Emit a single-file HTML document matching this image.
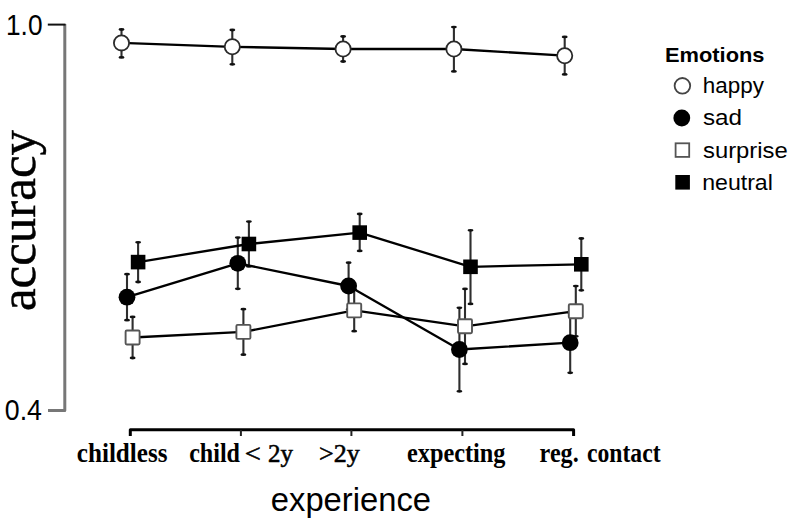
<!DOCTYPE html>
<html><head><meta charset="utf-8"><style>
html,body{margin:0;padding:0;background:#fff;width:800px;height:528px;overflow:hidden}
svg{display:block}
</style></head><body>
<svg width="800" height="528" viewBox="0 0 800 528">
<rect width="800" height="528" fill="#fff"/>
<path d="M64.8 24 V410.4 H48" fill="none" stroke="#777" stroke-width="3" stroke-linejoin="round"/>
<path d="M47.8 24.6 H65.5" fill="none" stroke="#111" stroke-width="2"/>
<path d="M130.3 436 V429.8 H573.6 V436" fill="none" stroke="#000" stroke-width="3" stroke-linejoin="round"/>
<path d="M240.9 430 V436" stroke="#222" stroke-width="2"/>
<path d="M351.4 430 V436" stroke="#222" stroke-width="2"/>
<path d="M462.4 430 V436" stroke="#222" stroke-width="2"/>
<path d="M132.6 316.9 V358.0" stroke="#2e2e2e" stroke-width="2.1" fill="none"/>
<ellipse cx="132.6" cy="316.9" rx="3.0" ry="1.4" fill="#111"/><ellipse cx="132.6" cy="358.0" rx="3.0" ry="1.4" fill="#111"/>
<path d="M243.4 309.2 V354.7" stroke="#2e2e2e" stroke-width="2.1" fill="none"/>
<ellipse cx="243.4" cy="309.2" rx="3.0" ry="1.4" fill="#111"/><ellipse cx="243.4" cy="354.7" rx="3.0" ry="1.4" fill="#111"/>
<path d="M354.2 289.6 V331.2" stroke="#2e2e2e" stroke-width="2.1" fill="none"/>
<ellipse cx="354.2" cy="289.6" rx="3.0" ry="1.4" fill="#111"/><ellipse cx="354.2" cy="331.2" rx="3.0" ry="1.4" fill="#111"/>
<path d="M465.0 288.9 V363.9" stroke="#2e2e2e" stroke-width="2.1" fill="none"/>
<ellipse cx="465.0" cy="288.9" rx="3.0" ry="1.4" fill="#111"/><ellipse cx="465.0" cy="363.9" rx="3.0" ry="1.4" fill="#111"/>
<path d="M575.8 286.1 V336.3" stroke="#2e2e2e" stroke-width="2.1" fill="none"/>
<ellipse cx="575.8" cy="286.1" rx="3.0" ry="1.4" fill="#111"/><ellipse cx="575.8" cy="336.3" rx="3.0" ry="1.4" fill="#111"/>
<path d="M127.0 274.2 V320.2" stroke="#2e2e2e" stroke-width="2.1" fill="none"/>
<ellipse cx="127.0" cy="274.2" rx="3.0" ry="1.4" fill="#111"/><ellipse cx="127.0" cy="320.2" rx="3.0" ry="1.4" fill="#111"/>
<path d="M237.8 237.6 V288.8" stroke="#2e2e2e" stroke-width="2.1" fill="none"/>
<ellipse cx="237.8" cy="237.6" rx="3.0" ry="1.4" fill="#111"/><ellipse cx="237.8" cy="288.8" rx="3.0" ry="1.4" fill="#111"/>
<path d="M348.6 262.7 V309.3" stroke="#2e2e2e" stroke-width="2.1" fill="none"/>
<ellipse cx="348.6" cy="262.7" rx="3.0" ry="1.4" fill="#111"/><ellipse cx="348.6" cy="309.3" rx="3.0" ry="1.4" fill="#111"/>
<path d="M459.4 307.8 V391.3" stroke="#2e2e2e" stroke-width="2.1" fill="none"/>
<ellipse cx="459.4" cy="307.8" rx="3.0" ry="1.4" fill="#111"/><ellipse cx="459.4" cy="391.3" rx="3.0" ry="1.4" fill="#111"/>
<path d="M570.2 312.7 V372.8" stroke="#2e2e2e" stroke-width="2.1" fill="none"/>
<ellipse cx="570.2" cy="312.7" rx="3.0" ry="1.4" fill="#111"/><ellipse cx="570.2" cy="372.8" rx="3.0" ry="1.4" fill="#111"/>
<path d="M138.1 242.3 V282.0" stroke="#2e2e2e" stroke-width="2.1" fill="none"/>
<ellipse cx="138.1" cy="242.3" rx="3.0" ry="1.4" fill="#111"/><ellipse cx="138.1" cy="282.0" rx="3.0" ry="1.4" fill="#111"/>
<path d="M248.9 221.6 V266.4" stroke="#2e2e2e" stroke-width="2.1" fill="none"/>
<ellipse cx="248.9" cy="221.6" rx="3.0" ry="1.4" fill="#111"/><ellipse cx="248.9" cy="266.4" rx="3.0" ry="1.4" fill="#111"/>
<path d="M359.7 214.0 V250.9" stroke="#2e2e2e" stroke-width="2.1" fill="none"/>
<ellipse cx="359.7" cy="214.0" rx="3.0" ry="1.4" fill="#111"/><ellipse cx="359.7" cy="250.9" rx="3.0" ry="1.4" fill="#111"/>
<path d="M470.5 230.3 V303.9" stroke="#2e2e2e" stroke-width="2.1" fill="none"/>
<ellipse cx="470.5" cy="230.3" rx="3.0" ry="1.4" fill="#111"/><ellipse cx="470.5" cy="303.9" rx="3.0" ry="1.4" fill="#111"/>
<path d="M581.3 238.5 V290.3" stroke="#2e2e2e" stroke-width="2.1" fill="none"/>
<ellipse cx="581.3" cy="238.5" rx="3.0" ry="1.4" fill="#111"/><ellipse cx="581.3" cy="290.3" rx="3.0" ry="1.4" fill="#111"/>
<path d="M121.5 29.5 V57.4" stroke="#2e2e2e" stroke-width="2.1" fill="none"/>
<ellipse cx="121.5" cy="29.5" rx="3.0" ry="1.4" fill="#111"/><ellipse cx="121.5" cy="57.4" rx="3.0" ry="1.4" fill="#111"/>
<path d="M232.3 30.0 V64.3" stroke="#2e2e2e" stroke-width="2.1" fill="none"/>
<ellipse cx="232.3" cy="30.0" rx="3.0" ry="1.4" fill="#111"/><ellipse cx="232.3" cy="64.3" rx="3.0" ry="1.4" fill="#111"/>
<path d="M343.1 36.5 V61.5" stroke="#2e2e2e" stroke-width="2.1" fill="none"/>
<ellipse cx="343.1" cy="36.5" rx="3.0" ry="1.4" fill="#111"/><ellipse cx="343.1" cy="61.5" rx="3.0" ry="1.4" fill="#111"/>
<path d="M453.9 27.1 V71.4" stroke="#2e2e2e" stroke-width="2.1" fill="none"/>
<ellipse cx="453.9" cy="27.1" rx="3.0" ry="1.4" fill="#111"/><ellipse cx="453.9" cy="71.4" rx="3.0" ry="1.4" fill="#111"/>
<path d="M564.7 36.9 V74.4" stroke="#2e2e2e" stroke-width="2.1" fill="none"/>
<ellipse cx="564.7" cy="36.9" rx="3.0" ry="1.4" fill="#111"/><ellipse cx="564.7" cy="74.4" rx="3.0" ry="1.4" fill="#111"/>
<path d="M132.6 337.5 L243.4 331.9 L354.2 310.4 L465.0 326.3 L575.8 311.2" stroke="#000" stroke-width="2.3" fill="none" stroke-linejoin="round"/>
<path d="M127.0 297.2 L237.8 263.3 L348.6 286.0 L459.4 349.5 L570.2 342.7" stroke="#000" stroke-width="2.3" fill="none" stroke-linejoin="round"/>
<path d="M138.1 262.1 L248.9 244.0 L359.7 232.6 L470.5 266.8 L581.3 264.3" stroke="#000" stroke-width="2.3" fill="none" stroke-linejoin="round"/>
<path d="M121.5 42.9 L232.3 46.8 L343.1 49.0 L453.9 49.0 L564.7 55.7" stroke="#000" stroke-width="2.3" fill="none" stroke-linejoin="round"/>
<rect x="125.6" y="330.5" width="14" height="14" rx="1.2" fill="#fff" stroke="#555" stroke-width="1.9"/>
<rect x="236.4" y="324.9" width="14" height="14" rx="1.2" fill="#fff" stroke="#555" stroke-width="1.9"/>
<rect x="347.2" y="303.4" width="14" height="14" rx="1.2" fill="#fff" stroke="#555" stroke-width="1.9"/>
<rect x="458.0" y="319.3" width="14" height="14" rx="1.2" fill="#fff" stroke="#555" stroke-width="1.9"/>
<rect x="568.8" y="304.2" width="14" height="14" rx="1.2" fill="#fff" stroke="#555" stroke-width="1.9"/>
<circle cx="127.0" cy="297.2" r="8.4" fill="#000"/>
<circle cx="237.8" cy="263.3" r="8.4" fill="#000"/>
<circle cx="348.6" cy="286.0" r="8.4" fill="#000"/>
<circle cx="459.4" cy="349.5" r="8.4" fill="#000"/>
<circle cx="570.2" cy="342.7" r="8.4" fill="#000"/>
<rect x="130.8" y="254.8" width="14.6" height="14.6" fill="#000"/>
<rect x="241.6" y="236.7" width="14.6" height="14.6" fill="#000"/>
<rect x="352.4" y="225.3" width="14.6" height="14.6" fill="#000"/>
<rect x="463.2" y="259.5" width="14.6" height="14.6" fill="#000"/>
<rect x="574.0" y="257.0" width="14.6" height="14.6" fill="#000"/>
<circle cx="121.5" cy="42.9" r="7.6" fill="#fff" stroke="#2a2a2a" stroke-width="1.8"/>
<circle cx="232.3" cy="46.8" r="7.6" fill="#fff" stroke="#2a2a2a" stroke-width="1.8"/>
<circle cx="343.1" cy="49.0" r="7.6" fill="#fff" stroke="#2a2a2a" stroke-width="1.8"/>
<circle cx="453.9" cy="49.0" r="7.6" fill="#fff" stroke="#2a2a2a" stroke-width="1.8"/>
<circle cx="564.7" cy="55.7" r="7.6" fill="#fff" stroke="#2a2a2a" stroke-width="1.8"/>
<circle cx="682.4" cy="85.8" r="7.8" fill="#fff" stroke="#444" stroke-width="1.8"/>
<circle cx="681.8" cy="118" r="8.4" fill="#000"/>
<rect x="675.6" y="143.3" width="13.6" height="13.6" fill="#fff" stroke="#555" stroke-width="1.8"/>
<rect x="675.3" y="175" width="14.6" height="14.6" fill="#000"/>
<text x="6.0" y="34.5" textLength="36.52" lengthAdjust="spacingAndGlyphs" style="font-family:'Liberation Sans',sans-serif;font-size:30px">1.0</text>
<text x="4.8" y="419.7" textLength="37.12" lengthAdjust="spacingAndGlyphs" style="font-family:'Liberation Sans',sans-serif;font-size:30px">0.4</text>
<text x="76.8" y="462.0" textLength="90.73" lengthAdjust="spacingAndGlyphs" style="font-family:'Liberation Serif',serif;font-size:27px;font-weight:bold">childless</text>
<text x="189.2" y="462.0" textLength="50.83" lengthAdjust="spacingAndGlyphs" style="font-family:'Liberation Serif',serif;font-size:27px;font-weight:bold">child</text>
<text x="244.8" y="462.0" textLength="16.07" lengthAdjust="spacingAndGlyphs" style="font-family:'Liberation Serif',serif;font-size:26px;stroke:#000;stroke-width:0.55px">&lt;</text>
<text x="268.0" y="462.0" textLength="25.0" lengthAdjust="spacingAndGlyphs" style="font-family:'Liberation Serif',serif;font-size:26px;stroke:#000;stroke-width:0.55px">2y</text>
<text x="319.0" y="462.0" textLength="40.67" lengthAdjust="spacingAndGlyphs" style="font-family:'Liberation Serif',serif;font-size:26px;stroke:#000;stroke-width:0.55px">&gt;2y</text>
<text x="407.0" y="462.0" textLength="98.48" lengthAdjust="spacingAndGlyphs" style="font-family:'Liberation Serif',serif;font-size:27px;font-weight:bold">expecting</text>
<text x="539.6" y="461.5" textLength="39.13" lengthAdjust="spacingAndGlyphs" style="font-family:'Liberation Serif',serif;font-size:27px;font-weight:bold">reg.</text>
<text x="587.0" y="461.5" textLength="73.57" lengthAdjust="spacingAndGlyphs" style="font-family:'Liberation Serif',serif;font-size:27px;font-weight:bold">contact</text>
<text x="270.8" y="510.6" textLength="160.25" lengthAdjust="spacingAndGlyphs" style="font-family:'Liberation Sans',sans-serif;font-size:33px">experience</text>
<text x="665.0" y="62.0" textLength="99.47" lengthAdjust="spacingAndGlyphs" style="font-family:'Liberation Sans',sans-serif;font-size:21px;font-weight:bold">Emotions</text>
<text x="702.8" y="92.5" textLength="61.15" lengthAdjust="spacingAndGlyphs" style="font-family:'Liberation Sans',sans-serif;font-size:22px">happy</text>
<text x="703.0" y="125.3" textLength="39.08" lengthAdjust="spacingAndGlyphs" style="font-family:'Liberation Sans',sans-serif;font-size:22px">sad</text>
<text x="703.0" y="158.4" textLength="84.65" lengthAdjust="spacingAndGlyphs" style="font-family:'Liberation Sans',sans-serif;font-size:22px">surprise</text>
<text x="702.2" y="189.5" textLength="70.68" lengthAdjust="spacingAndGlyphs" style="font-family:'Liberation Sans',sans-serif;font-size:22px">neutral</text>
<text transform="translate(35 220.5) rotate(-90)" text-anchor="middle" style="font-family:'Liberation Serif',serif;font-size:51px;stroke:#000;stroke-width:0.45px">accuracy</text>
</svg>
</body></html>
